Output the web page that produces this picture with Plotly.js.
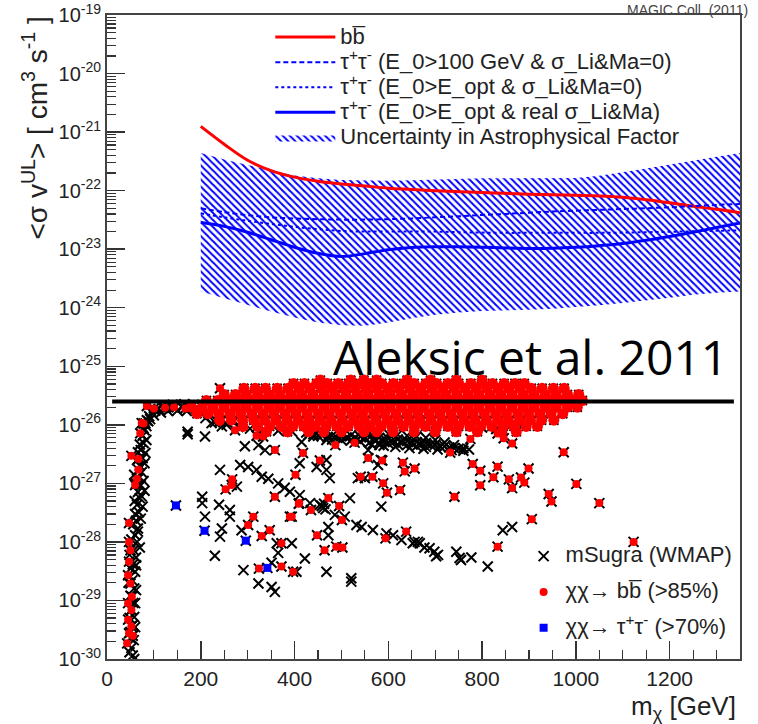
<!DOCTYPE html>
<html><head><meta charset="utf-8">
<script src="https://cdn.plot.ly/plotly-3.0.1.min.js"></script>
<style>html,body{margin:0;padding:0;background:#fff;}#chart{width:758px;height:724px;}</style>
</head><body><div id="chart"></div>
<script>
// ---------- limit curves (x in GeV, y in cm^3 s^-1) ----------
const massGrid = [200,250,300,350,400,450,500,550,600,650,700,750,800,850,900,950,1000,1050,1100,1150,1200,1250,1300,1350];
const bbLimit   = [1.25e-21,6.2e-22,3.3e-22,2.2e-22,1.7e-22,1.45e-22,1.3e-22,1.2e-22,1.1e-22,1.05e-22,1.0e-22,9.6e-23,9.3e-23,9.0e-23,8.7e-23,8.5e-23,8.3e-23,8.1e-23,7.7e-23,7.0e-23,6.2e-23,5.4e-23,4.8e-23,4.2e-23];
const tauDashed = [5.0e-23,4.3e-23,3.8e-23,3.5e-23,3.35e-23,3.25e-23,3.2e-23,3.2e-23,3.25e-23,3.35e-23,3.5e-23,3.65e-23,3.85e-23,4.0e-23,4.2e-23,4.4e-23,4.55e-23,4.7e-23,4.85e-23,5.0e-23,5.2e-23,5.45e-23,5.7e-23,5.9e-23];
const tauDotted = [4.1e-23,3.5e-23,3.05e-23,2.7e-23,2.4e-23,2.2e-23,2.05e-23,2.0e-23,2.0e-23,2.0e-23,2.0e-23,1.95e-23,1.92e-23,1.9e-23,1.9e-23,1.9e-23,1.9e-23,1.9e-23,1.92e-23,1.95e-23,1.98e-23,2.02e-23,2.06e-23,2.1e-23];
const tauSolid  = [2.85e-23,2.45e-23,1.95e-23,1.45e-23,1.08e-23,8.5e-24,7.5e-24,8.4e-24,9.8e-24,1.07e-23,1.1e-23,1.1e-23,1.08e-23,1.05e-23,1.03e-23,1.04e-23,1.08e-23,1.15e-23,1.25e-23,1.42e-23,1.65e-23,1.95e-23,2.35e-23,2.8e-23];
const bandUpper = [4.4e-22,3.4e-22,2.75e-22,2.2e-22,1.82e-22,1.62e-22,1.52e-22,1.48e-22,1.48e-22,1.5e-22,1.55e-22,1.6e-22,1.62e-22,1.62e-22,1.62e-22,1.62e-22,1.65e-22,1.8e-22,2.05e-22,2.4e-22,2.8e-22,3.3e-22,3.8e-22,4.4e-22];
const bandLower = [1.9e-24,1.45e-24,1.12e-24,8.6e-25,6.8e-25,5.6e-25,5.0e-25,4.9e-25,5.6e-25,6.6e-25,7.6e-25,8.3e-25,8.8e-25,9.0e-25,9.2e-25,9.6e-25,1.02e-24,1.1e-24,1.2e-24,1.32e-24,1.48e-24,1.66e-24,1.8e-24,1.9e-24];
const relicX = [11, 1337];
const relicY = [2.5e-26, 2.5e-26];
const yTickVals = [1e-30,1e-29,1e-28,1e-27,1e-26,1e-25,1e-24,1e-23,1e-22,1e-21,1e-20,1e-19];

// ---------- mSugra scan points ----------
// dense bb-dominated band: rows of masses at a given <sigma v>
const bandLevels = [5.8e-26,5.1e-26,4.2e-26,3.3e-26,2.6e-26,2.0e-26,1.55e-26,1.2e-26,9.4e-27,7.6e-27];
const bandRowMasses = [
 [455,520,548,575,640,690,745,800],
 [398,421,447,470,493,515,540,562,586,611,633,655,680,703,727,750,776,799,822,847,870,890],
 [292,316,338,363,386,410,433,458,481,505,528,552,575,599,622,646,669,693,716,740,763,787,810,834,857,881,905,928,952,975],
 [250,274,297,321,345,368,392,415,439,463,486,510,534,557,581,604,628,652,675,699,722,746,770,793,817,840,864,888,911,935,958,982,1006],
 [212,236,262,285,309,333,356,380,403,427,451,474,498,522,545,569,592,616,640,663,687,710,734,758,781,805,829,852,876,899,923,947,970,994,1014],
 [180,203,226,250,274,297,321,345,368,392,415,439,463,486,510,534,557,581,604,628,652,675,699,722,746,770,793,817,840,864,888,911,935,958,982,1003],
 [192,215,238,262,285,309,333,356,380,403,427,451,474,498,522,545,569,592,616,640,663,687,710,734,758,781,805,829,852,876,899,923,947,972],
 [240,265,289,313,336,360,384,408,431,455,478,502,526,549,573,597,620,644,667,691,715,738,762,785,809,833,856,880,903,927,953],
 [290,321,347,372,396,420,443,467,490,514,538,561,585,608,632,656,679,703,727,750,774,797,821,845,868,894,918],
 [340,385,430,462,500,548,575,610,655,700,745,790,842,873]
];
// isolated bb-dominated points
const bbPoints = [[528,4.96e-27],[487,4.5e-27],[418,3.3e-27],[402,1.4e-27],[454,2.45e-27],[557,2.7e-27],[587,2.45e-27],[631,2.26e-27],[635,1.6e-27],[656,1.8e-27],[541,1.3e-27],[566,1.3e-27],[589,1.0e-27],[597,6.9e-28],[625,7.7e-28],[741,5.9e-28],[732,3.35e-27],[780,2.14e-27],[796,1.64e-27],[796,9.3e-28],[824,1.27e-27],[833,1.93e-27],[857,1.17e-27],[864,8.3e-28],[864,4.8e-27],[846,5.9e-27],[833,7.1e-27],[775,5.75e-27],[472,5.6e-28],[495,4.1e-28],[501,2.37e-28],[410,4.6e-28],[435,3.5e-28],[394,2.7e-28],[448,1.3e-28],[464,7.2e-29],[489,8.3e-29],[502,8.0e-29],[638,1.5e-28],[594,1.15e-28],[833,8.3e-29],[397,3.1e-29],
 [974,3.4e-27],[883,1.26e-27],[890,1.03e-27],[899,1.8e-27],[942,6.6e-28],[948,4.9e-28],[1001,9.8e-28],[1050,4.6e-28],[906,2.45e-28],[1123,1.0e-28],
 [241,4.2e-26],[273,8.1e-27],[241,1.13e-26],[319,6.5e-27],[333,6.3e-27],[267,1.17e-27],[266,9.4e-28],[253,7.9e-28],[312,2.7e-28],[301,1.95e-28],[330,1.26e-28],[347,1.58e-28],[372,9.5e-29],[358,5.9e-28],[372,3.8e-29],[324,3.5e-29],[390,2.7e-28],[409,4.5e-28],[358,3.7e-27],
 [85,2.1e-26],[74,1.07e-26],[71,7.2e-27],[52,2.95e-27],[67,2.6e-27],[67,1.7e-27],[64,1.2e-27],[60,9.4e-28],[47,2.1e-28],[47,1.0e-28],[50,7.2e-29],[47,4.6e-29],[45,2.7e-29],[50,1.95e-29],[53,1.16e-29],[45,9e-30],[52,6.9e-30],[45,4.7e-30],[52,3.6e-30],[47,2.75e-30],[55,2.5e-30],[43,1.85e-30],[78,1.05e-26],
 [124,1.95e-26],[143,2.0e-26],[167,1.9e-26],[100,1.9e-26]];
// tau-dominated points
const tauPoints = [[147,4.2e-28],[208,1.55e-28],[296,1.05e-28],[342,3.6e-29]];
// other mSugra (WMAP) points
const stripPoints = [[55,1.15e-30],[52,1.55e-30],[57,2.1e-30],[50,2.9e-30],[55,3.8e-30],[58,5.2e-30],[52,6.9e-30],[56,9.1e-30],[50,1.2e-29],[58,1.6e-29],[54,2.2e-29],[60,3.1e-29],[55,4.1e-29],[62,5.4e-29],[57,7.2e-29],[64,1.0e-28],[60,1.3e-28],[66,1.7e-28],[62,2.3e-28],[68,3.2e-28],[64,4.3e-28],[70,5.6e-28],[66,7.1e-28],[72,9.3e-28],[68,1.23e-27],[74,1.55e-27],[70,2.0e-27],[76,2.7e-27],[72,3.7e-27],[78,4.9e-27],[76,6.5e-27],[80,8.1e-27],
 [58,1.4e-27],[62,1.0e-27],[78,1.1e-27],[80,7.5e-28],[74,6.0e-28],[59,5.0e-28],[76,4.0e-28],[60,3.0e-28],[72,2.5e-28],[56,2.0e-28],[66,1.5e-28],[52,1.1e-28],[70,8.0e-29],[48,6.0e-29],[62,4.0e-29],[50,3.5e-29],[46,2.0e-29],[62,1.5e-29],[60,9e-30],[48,5e-30],[60,3.5e-30],[52,2.2e-30],[48,1.3e-30],[58,1.0e-30],
 [82,3.3e-27],[84,5.5e-27],[80,2.2e-27],[64,2.5e-27],[66,3.4e-27],[70,4.6e-27]];
const bendPoints = [[78,8.7e-27],[82,1.05e-26],[85,1.2e-26],[90,1.4e-26],[96,1.6e-26],[103,1.75e-26],[110,1.86e-26],[120,1.95e-26],[131,2.0e-26],[145,2.0e-26],[160,2.0e-26],[175,1.95e-26],[190,1.9e-26],[88,1.15e-26],[100,1.45e-26],[115,1.62e-26],[130,1.72e-26],[150,1.75e-26],[170,1.72e-26],[200,1.72e-26],[84,9.5e-27],[92,1.25e-26],[140,2.2e-26],[165,2.25e-26],[185,2.2e-26],
 [210,1.3e-26],[230,1.1e-26],[255,1.0e-26],[280,9.2e-27],[305,8.6e-27],[335,8.2e-27],[365,7.9e-27],[395,7.6e-27],[425,7.4e-27],[220,1.5e-26],[245,1.25e-26],[270,1.15e-26]];
const tailPoints = [[440,8.1e-27],[440,6.9e-27],[460,6.7e-27],[480,6.5e-27],[480,5.6e-27],[500,6.4e-27],[500,5.5e-27],[520,6.6e-27],[520,5.4e-27],[540,7.5e-27],[540,6.3e-27],[540,5.2e-27],[560,7.4e-27],[560,6.1e-27],[560,5.0e-27],[580,7.2e-27],[580,6.0e-27],[580,4.9e-27],[600,7.0e-27],[600,5.8e-27],[600,4.8e-27],[620,6.8e-27],[620,5.6e-27],[620,4.6e-27],[640,6.5e-27],[640,5.3e-27],[640,4.5e-27],[660,6.3e-27],[660,5.1e-27],[660,4.3e-27],[680,6.0e-27],[680,4.9e-27],[680,4.2e-27],[700,5.5e-27],[700,4.6e-27],[720,5.0e-27],[720,4.3e-27],[740,4.5e-27],[740,4.0e-27],[760,4.0e-27],[772,3.8e-27],[800,9e-27],[830,8.5e-27],[860,9.5e-27],[880,1.0e-26],
 [550,5.8e-27],[570,5.5e-27],[590,5.3e-27],[610,5.1e-27],[630,5.0e-27],[650,4.8e-27],[670,4.6e-27],[690,4.5e-27],[710,4.3e-27],[730,4.1e-27],[750,3.9e-27],[565,4.6e-27],[590,4.4e-27],[615,4.2e-27],[645,4.0e-27],[675,3.9e-27],[705,3.8e-27],[735,3.7e-27],[760,3.6e-27],[530,6.0e-27],[510,6.0e-27],[490,6.1e-27],[470,6.2e-27],[450,6.5e-27],[430,6.8e-27]];
const loosePoints = [[415,5.1e-27],[440,6.3e-27],[468,5.5e-27],[557,3.7e-27],[581,4.5e-27],[468,2.5e-27],[475,1.23e-27],[447,1.9e-27],[411,2.2e-27],[468,1.7e-27],[535,1.23e-27],[550,1.23e-27],[578,2.06e-27],[584,2.5e-27],
 [390,7.2e-28],[411,6.3e-28],[433,4.6e-28],[454,4.3e-28],[461,3.8e-28],[486,2.9e-28],[507,2.7e-28],[532,1.95e-28],[543,1.8e-28],[567,1.6e-28],[596,1.4e-28],[610,1.3e-28],[628,1.08e-28],[656,1.0e-28],[667,9.5e-29],[688,7.8e-29],[698,6.8e-29],[706,6.0e-29],[745,6.8e-29],[755,4.9e-29],[777,5.4e-29],[812,3.8e-29],
 [458,4.1e-28],[463,4.5e-28],[466,3.6e-28],[518,5.6e-28],[585,4.0e-28],[472,1.8e-28],[472,1.3e-28],[422,5.2e-29],[468,3.1e-29],[521,2.4e-29],[521,2.1e-29],[404,3.1e-29],[394,9.5e-29],[844,1.58e-28],[864,1.8e-28],
 [652,9.5e-29],[677,8.0e-29],[702,5.7e-29],[752,5.3e-29],[663,1.0e-28],
 [172,7.6e-27],[172,6.9e-27],[209,6.3e-27],[223,1.07e-26],[245,9.4e-27],[269,1.2e-26],[241,1.7e-27],[203,5.9e-28],[203,4.6e-28],[209,2.7e-28],[239,4.3e-28],[262,3.5e-28],[262,2.7e-28],[245,1.7e-28],[241,1.23e-28],[230,5.8e-29],[291,3.3e-29],[294,4.3e-27],[323,4.5e-27],[337,3.7e-27],[284,2.06e-27],[301,1.9e-27],[319,1.7e-27],[330,1.3e-27],[344,1.2e-27],[365,1.0e-27],[379,8.4e-28],[277,8.8e-28],[362,9.5e-29],[365,6.5e-29],[351,4.4e-29],[323,1.95e-29],[351,1.7e-29],[358,1.4e-29],[287,1.58e-28]];

// ---------- build traces ----------
const bandX = [], bandY = [];
bandRowMasses.forEach((row, i) => row.forEach(m => { bandX.push(m); bandY.push(bandLevels[i]); }));
const bbX = bbPoints.map(p => p[0]), bbY = bbPoints.map(p => p[1]);
const otherPts = stripPoints.concat(bendPoints, tailPoints, loosePoints);
const blackX = otherPts.map(p => p[0]).concat(bbX, tauPoints.map(p => p[0]));
const blackY = otherPts.map(p => p[1]).concat(bbY, tauPoints.map(p => p[1]));
const yTickText = yTickVals.map(v => '10<sup>' + Math.round(Math.log10(v)) + '</sup>');

const FONT = 'Liberation Sans, Arial, sans-serif';
const big = s => '<span style="font-size:22px">' + s + '</span>';
const tt = 'τ<sup>+</sup>τ<sup>-</sup>';
const traces = [
  {x: massGrid.concat(massGrid.slice().reverse()), y: bandUpper.concat(bandLower.slice().reverse()),
   type: 'scatter', mode: 'lines', fill: 'toself', fillcolor: 'rgba(255,255,255,0)',
   fillpattern: {shape: '\\', fgcolor: '#0000ff', bgcolor: 'rgba(255,255,255,0)', size: 5, solidity: 0.4, fillmode: 'replace'},
   line: {color: '#0000ff', width: 0}, name: big('Uncertainty in Astrophysical Factor'), legendrank: 1005, hoverinfo: 'skip'},
  {x: massGrid, y: bbLimit, type: 'scatter', mode: 'lines', line: {color: '#ff0000', width: 3, shape: 'spline'}, name: big('bb\u0305')},
  {x: massGrid, y: tauDashed, type: 'scatter', mode: 'lines', line: {color: '#0000ff', width: 2, dash: '5px,3px', shape: 'spline'}, name: big(tt + ' (E_0&gt;100 GeV &amp; σ_Li&amp;Ma=0)')},
  {x: massGrid, y: tauDotted, type: 'scatter', mode: 'lines', line: {color: '#0000ff', width: 2, dash: 'dot', shape: 'spline'}, name: big(tt + ' (E_0&gt;E_opt &amp; σ_Li&amp;Ma=0)')},
  {x: massGrid, y: tauSolid, type: 'scatter', mode: 'lines', line: {color: '#0000ff', width: 3, shape: 'spline'}, name: big(tt + ' (E_0&gt;E_opt &amp; real σ_Li&amp;Ma)')},
  {x: blackX, y: blackY, type: 'scatter', mode: 'markers', name: big('mSugra (WMAP)'), legend: 'legend2', legendgroup: 'a',
   marker: {symbol: 'x-thin-open', size: 10, color: '#000', line: {color: '#000', width: 2}}},
  {x: bandX, y: bandY, type: 'scatter', mode: 'markers', legend: 'legend2', legendgroup: 'a', showlegend: false,
   marker: {symbol: 'x-thin-open', size: 9, color: '#000', line: {color: '#000', width: 2}}},
  {x: bandX, y: bandY, type: 'scatter', mode: 'markers', legend: 'legend2', legendgroup: 'b', showlegend: false,
   marker: {symbol: 'circle', size: 11, color: '#ff0000'}},
  {x: bbX, y: bbY, type: 'scatter', mode: 'markers', name: big('χχ→ bb\u0305 (&gt;85%)'), legend: 'legend2', legendgroup: 'b',
   marker: {symbol: 'circle', size: 8, color: '#ff0000'}},
  {x: tauPoints.map(p => p[0]), y: tauPoints.map(p => p[1]), type: 'scatter', mode: 'markers', name: big('χχ→ ' + tt + ' (&gt;70%)'), legend: 'legend2', legendgroup: 'c',
   marker: {symbol: 'square', size: 8, color: '#0000ff'}},
  {x: relicX, y: relicY, type: 'scatter', mode: 'lines', line: {color: '#000', width: 4}, showlegend: false, hoverinfo: 'skip'}
];

const layout = {
  width: 758, height: 724,
  margin: {l: 107, r: 18, t: 15, b: 65},
  paper_bgcolor: '#fff', plot_bgcolor: '#fff',
  font: {family: FONT, color: '#222'},
  xaxis: {range: [0, 1350], tick0: 0, dtick: 200, ticks: 'inside', ticklen: 18, tickwidth: 1.5, tickcolor: '#333',
    minor: {dtick: 50, ticks: 'inside', ticklen: 9, tickwidth: 1.2, tickcolor: '#333'},
    showline: true, mirror: true, linecolor: '#444', linewidth: 2, showgrid: false, zeroline: false,
    tickfont: {size: 21, family: FONT, color: '#222'}},
  yaxis: {type: 'log', range: [-30, -19], tickmode: 'array', tickvals: yTickVals, ticktext: yTickText, ticklabeloverflow: 'allow',
    ticks: 'inside', ticklen: 18, tickwidth: 1.5, tickcolor: '#333',
    minor: {dtick: 'D1', ticks: 'inside', ticklen: 9, tickwidth: 1.2, tickcolor: '#333'},
    showline: true, mirror: true, linecolor: '#444', linewidth: 2, showgrid: false, zeroline: false,
    tickfont: {size: 20, family: FONT, color: '#222'}},
  legend: {x: 0.258, y: 0.993, xanchor: 'left', yanchor: 'top', bgcolor: 'rgba(0,0,0,0)', itemwidth: 60,
    font: {size: 17, family: FONT, color: '#222'}, traceorder: 'normal'},
  legend2: {x: 0.655, y: 0.186, xanchor: 'left', yanchor: 'top', bgcolor: 'rgba(0,0,0,0)', itemwidth: 34,
    font: {size: 16, family: FONT, color: '#222'}, traceorder: 'grouped', tracegroupgap: 12},
  annotations: [
    {text: 'Aleksic et al. 2011', xref: 'paper', yref: 'paper', x: 0.984, y: 0.47, xanchor: 'right', yanchor: 'middle',
     showarrow: false, font: {family: 'Open Sans, Noto Sans, sans-serif', size: 48, color: '#000'}},
    {text: 'MAGIC Coll. (2011)', xref: 'paper', yref: 'paper', x: 1.016, y: 1.008, xanchor: 'right', yanchor: 'middle',
     showarrow: false, font: {family: FONT, size: 14, color: '#444'}},
    {text: '&lt;σ v<sup>UL</sup>&gt; [ cm<sup>3</sup> s<sup>-1</sup> ]', xref: 'paper', yref: 'paper', x: -0.113, y: 0.8245,
     xanchor: 'center', yanchor: 'middle', textangle: -90, showarrow: false, font: {family: FONT, size: 28, color: '#222'}},
    {text: 'm<sub>χ</sub> [GeV]', xref: 'paper', yref: 'paper', x: 0.997, y: -0.076, xanchor: 'right', yanchor: 'middle',
     showarrow: false, font: {family: FONT, size: 26, color: '#222'}}
  ]
};
Plotly.newPlot('chart', traces, layout, {displayModeBar: false, staticPlot: true});
</script></body></html>
